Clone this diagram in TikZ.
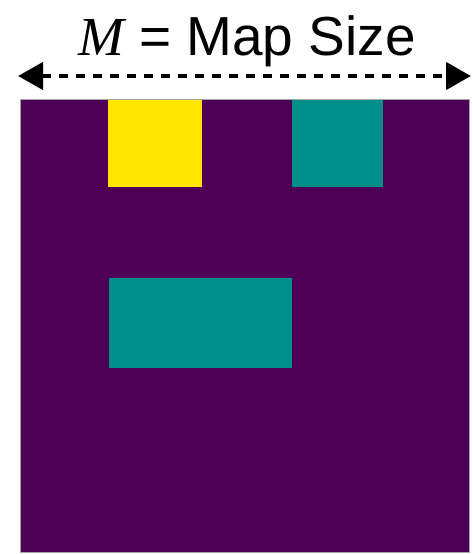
\documentclass[tikz,border=0pt]{standalone}
\usepackage{fontspec}
\setmainfont{Liberation Sans}
\newfontfamily\mserif{Liberation Serif}
\usetikzlibrary{arrows.meta}
\definecolor{mappurple}{RGB}{77,0,86}
\definecolor{mapyellow}{RGB}{255,230,0}
\definecolor{mapteal}{RGB}{0,143,138}
\begin{document}
\begin{tikzpicture}[x=1pt,y=-1pt,
  cell/.style={inner sep=0pt,outer sep=0pt,anchor=north west},
  sizearrow/.style={line width=4.5pt,dash pattern=on 9pt off 8pt,
    {Triangle[length=25pt,width=27pt]}-{Triangle[length=25pt,width=27pt]}}]
\useasboundingbox (0,0) rectangle (472,554);
% map background
\node[cell,fill=mappurple,draw=gray!70,line width=1pt,minimum width=449pt,minimum height=453pt] (map) at (20,99) {};
\node[cell,fill=mapyellow,minimum width=94pt,minimum height=87pt] (goal) at (108,100) {};
\node[cell,fill=mapteal,minimum width=91pt,minimum height=87pt] (obsA) at (292,100) {};
\node[cell,fill=mapteal,minimum width=183pt,minimum height=90pt] (obsB) at (109,278) {};
% title
\node[inner sep=0pt,anchor=base] (title) at (247,55) {\fontsize{55}{60}\selectfont {\mserif\itshape M} = Map Size};
% arrow
\coordinate (aL) at (18,76);
\coordinate (aR) at (471,76);
\draw[sizearrow] (aL) -- (aR);
\end{tikzpicture}
\end{document}
